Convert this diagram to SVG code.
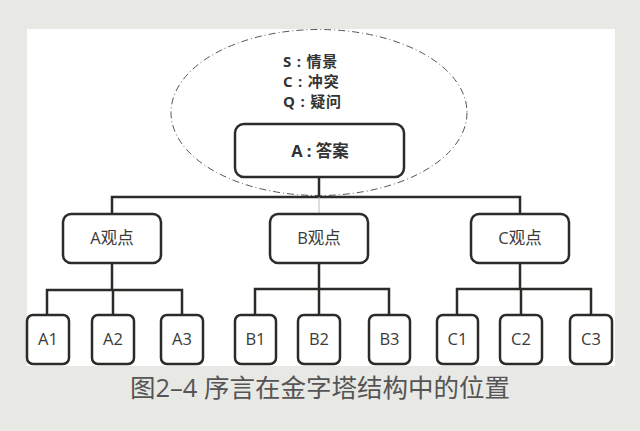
<svg xmlns="http://www.w3.org/2000/svg" width="640" height="431" viewBox="0 0 640 431">
<style>
.box{fill:#fff;stroke:#2b2b28;stroke-width:2.5}
.ln{fill:none;stroke:#2b2b28;stroke-width:2.5}
.t{font-family:"Open Sans","Noto Sans CJK SC",sans-serif;font-size:16.5px;fill:#3a3a3a;text-anchor:middle}
.b{font-family:"Open Sans","Noto Sans CJK SC",sans-serif;font-size:16.5px;font-weight:bold;fill:#333}
.s{font-size:15px;letter-spacing:0.8px}
</style>
<rect x="0" y="0" width="640" height="431" fill="#e8e8e5"/>
<rect x="27" y="29" width="588" height="337" fill="#fff"/>
<g id="context">
<ellipse cx="319" cy="112.5" rx="148" ry="83" fill="none" stroke="#555" stroke-width="1" stroke-dasharray="7,3,1,3"/>
<text class="b s" x="283" y="67">S : 情景</text>
<text class="b s" x="283" y="87">C : 冲突</text>
<text class="b s" x="283" y="107">Q : 疑问</text>
</g>
<g id="connectors">
<path class="ln" d="M319,177V197M112,214V197H520V214"/>
<path d="M319,197V214" stroke="#bbb" stroke-width="1"/>
<path class="ln" d="M112,263V290M47,315V290H182V315M113,290V315"/>
<path class="ln" d="M319,263V289M255,315V289H389V315M319,289V315"/>
<path class="ln" d="M520,263V289M457,315V289H591V315M521,289V315"/>
</g>
<g id="A"><rect class="box" x="235" y="124" width="169" height="53" rx="9"/><text class="b" x="320" y="157" text-anchor="middle">A : 答案</text></g>
<g id="Aview"><rect class="box" x="63" y="214" width="98" height="49" rx="8"/><text class="t" x="112" y="244">A观点</text></g>
<g id="Bview"><rect class="box" x="270" y="214" width="98" height="49" rx="8"/><text class="t" x="319" y="244">B观点</text></g>
<g id="Cview"><rect class="box" x="471" y="214" width="98" height="49" rx="8"/><text class="t" x="520" y="244">C观点</text></g>
<g id="A1"><rect class="box" x="27" y="315" width="42" height="49" rx="6"/><text class="t" x="48" y="345">A1</text></g>
<g id="A2"><rect class="box" x="92" y="315" width="42" height="49" rx="6"/><text class="t" x="113" y="345">A2</text></g>
<g id="A3"><rect class="box" x="161" y="315" width="42" height="49" rx="6"/><text class="t" x="182" y="345">A3</text></g>
<g id="B1"><rect class="box" x="235" y="315" width="41" height="49" rx="6"/><text class="t" x="255.5" y="345">B1</text></g>
<g id="B2"><rect class="box" x="298" y="315" width="42" height="49" rx="6"/><text class="t" x="319" y="345">B2</text></g>
<g id="B3"><rect class="box" x="369" y="315" width="41" height="49" rx="6"/><text class="t" x="389.5" y="345">B3</text></g>
<g id="C1"><rect class="box" x="437" y="315" width="41" height="49" rx="6"/><text class="t" x="457.5" y="345">C1</text></g>
<g id="C2"><rect class="box" x="500" y="315" width="42" height="49" rx="6"/><text class="t" x="521" y="345">C2</text></g>
<g id="C3"><rect class="box" x="570" y="315" width="42" height="49" rx="6"/><text class="t" x="591" y="345">C3</text></g>
<text x="320" y="397" font-family="'Open Sans','Noto Sans CJK SC',sans-serif" font-size="25.5" fill="#555" text-anchor="middle">图2–4 序言在金字塔结构中的位置</text>
</svg>
